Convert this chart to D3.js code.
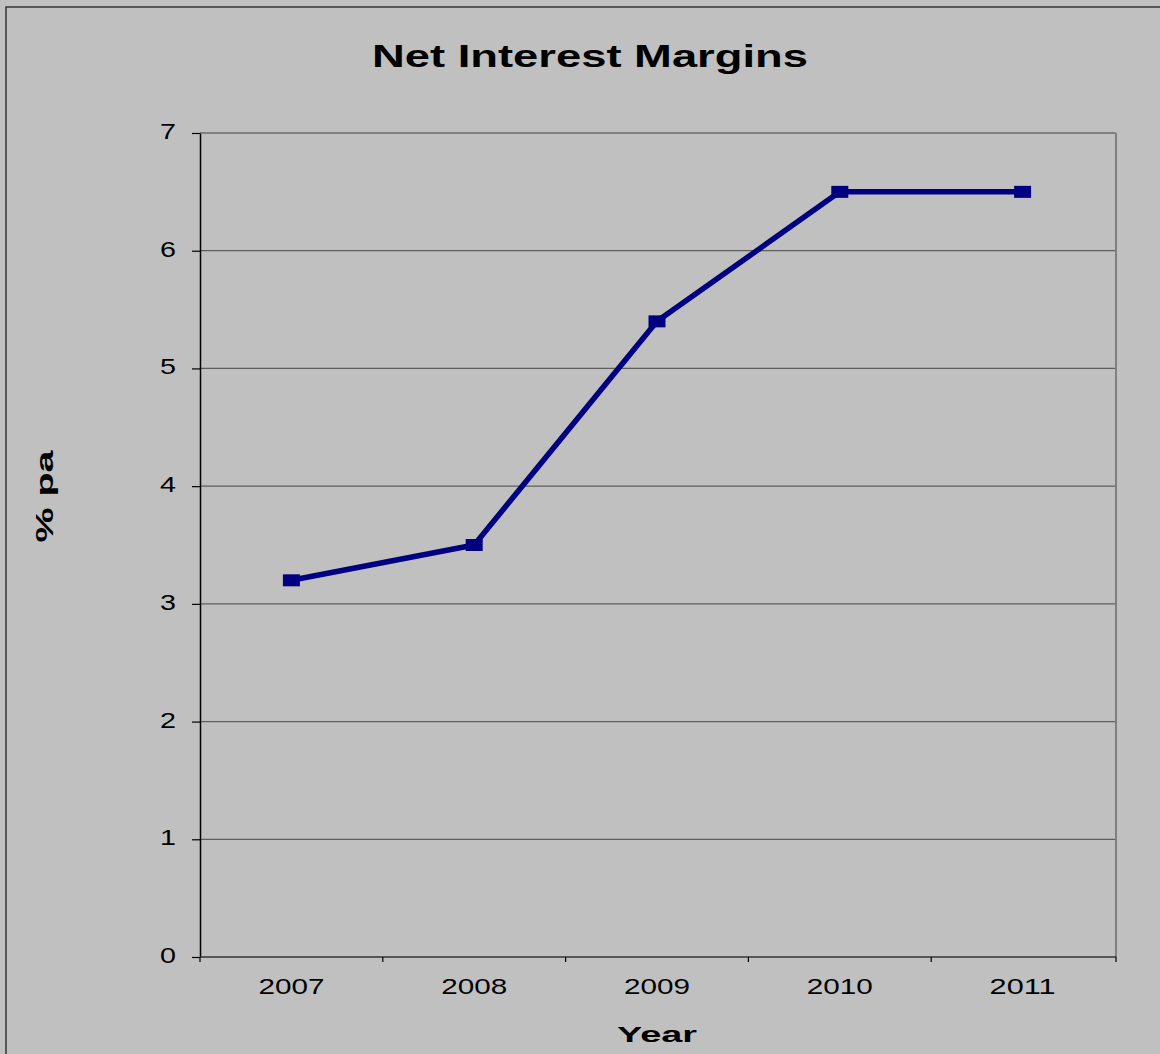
<!DOCTYPE html>
<html>
<head>
<meta charset="utf-8">
<script src="https://cdn.jsdelivr.net/npm/d3@7"></script>
<style>
  html, body { margin: 0; padding: 0; background: #c0c0c0; }
  svg { display: block; font-family: "Liberation Sans", Arial, sans-serif; }
</style>
</head>
<body>
<svg></svg>
<script>
// chart data
const years = ["2007", "2008", "2009", "2010", "2011"];
const margins = [3.2, 3.5, 5.4, 6.5, 6.5];
const yTicks = [0, 1, 2, 3, 4, 5, 6, 7];

const width = 1160, height = 1054;

const svg = d3.select("svg")
  .attr("width", width)
  .attr("height", height);

// chart background + outer frame
svg.append("rect")
  .attr("x", 6).attr("y", 7)
  .attr("width", width + 10).attr("height", height + 10)
  .attr("fill", "#c0c0c0")
  .attr("stroke", "#333")
  .attr("stroke-width", 1.5);

// plot area
const plot = { left: 200, top: 133, right: 1116, bottom: 957 };

const x = d3.scaleBand()
  .domain(years)
  .range([plot.left, 1114])
  .padding(0);

const y = d3.scaleLinear()
  .domain([0, 7])
  .range([plot.bottom, plot.top]);

// gridlines
svg.append("g")
  .selectAll("line")
  .data(yTicks.filter(d => d > 0))
  .enter()
  .append("line")
  .attr("x1", plot.left).attr("x2", plot.right)
  .attr("y1", d => y(d)).attr("y2", d => y(d))
  .attr("stroke", d => d === 7 ? "#808080" : "#5e5e5e")
  .attr("stroke-width", d => d === 7 ? 2 : 1.2);

// right edge of plot
svg.append("line")
  .attr("x1", plot.right).attr("x2", plot.right)
  .attr("y1", plot.top).attr("y2", plot.bottom)
  .attr("stroke", "#808080")
  .attr("stroke-width", 2);

// y axis
const yAxis = svg.append("g")
  .attr("transform", `translate(${plot.left},0)`)
  .call(d3.axisLeft(y).tickValues(yTicks).tickFormat(d3.format("d"))
    .tickSize(8).tickPadding(16).tickSizeOuter(0));

yAxis.select(".domain").attr("stroke", "#000").attr("stroke-width", 1.5);
yAxis.selectAll(".tick line").attr("stroke", "#000").attr("stroke-width", 1.2);
yAxis.selectAll(".tick text")
  .attr("font-size", 22)
  .attr("fill", "#000")
  .attr("dy", "0.25em")
  .attr("textLength", 16)
  .attr("lengthAdjust", "spacingAndGlyphs");

// x axis, ticks sit on category boundaries
const xAxis = svg.append("g")
  .attr("transform", `translate(0,${plot.bottom})`)
  .call(d3.axisBottom(x).tickSize(0).tickPadding(21));

xAxis.select(".domain").remove();
xAxis.append("line")
  .attr("x1", plot.left).attr("x2", plot.right)
  .attr("stroke", "#333").attr("stroke-width", 1.5);
xAxis.selectAll(".tick text")
  .attr("font-size", 22)
  .attr("fill", "#000")
  .attr("dy", "0.71em")
  .attr("textLength", 66)
  .attr("lengthAdjust", "spacingAndGlyphs");

xAxis.selectAll(".boundary")
  .data(years.map(d => x(d)).concat([plot.right]))
  .enter()
  .append("line")
  .attr("class", "boundary")
  .attr("x1", d => d).attr("x2", d => d)
  .attr("y1", 0).attr("y2", 5)
  .attr("stroke", "#000")
  .attr("stroke-width", 1.2);

// series line
const cx = d => x(d) + x.bandwidth() / 2;

const line = d3.line()
  .x((d, i) => cx(years[i]))
  .y(d => y(d));

svg.append("path")
  .datum(margins)
  .attr("d", line)
  .attr("fill", "none")
  .attr("stroke", "#000080")
  .attr("stroke-width", 5.5)
  .attr("stroke-linejoin", "round");

svg.append("g")
  .selectAll("rect")
  .data(margins)
  .enter()
  .append("rect")
  .attr("x", (d, i) => cx(years[i]) - 8.5)
  .attr("y", d => y(d) - 6)
  .attr("width", 17)
  .attr("height", 12)
  .attr("fill", "#000080");

// titles
svg.append("text")
  .attr("x", 590).attr("y", 67)
  .attr("text-anchor", "middle")
  .attr("font-size", 31)
  .attr("font-weight", "bold")
  .attr("textLength", 436)
  .attr("lengthAdjust", "spacingAndGlyphs")
  .text("Net Interest Margins");

svg.append("text")
  .attr("x", 657).attr("y", 1042)
  .attr("text-anchor", "middle")
  .attr("font-size", 22)
  .attr("font-weight", "bold")
  .attr("textLength", 80)
  .attr("lengthAdjust", "spacingAndGlyphs")
  .text("Year");

svg.append("text")
  .attr("transform", "translate(53,496.5) rotate(-90)")
  .attr("text-anchor", "middle")
  .attr("font-size", 23)
  .attr("font-weight", "bold")
  .attr("textLength", 92)
  .attr("lengthAdjust", "spacingAndGlyphs")
  .text("% pa");
</script>
</body>
</html>
